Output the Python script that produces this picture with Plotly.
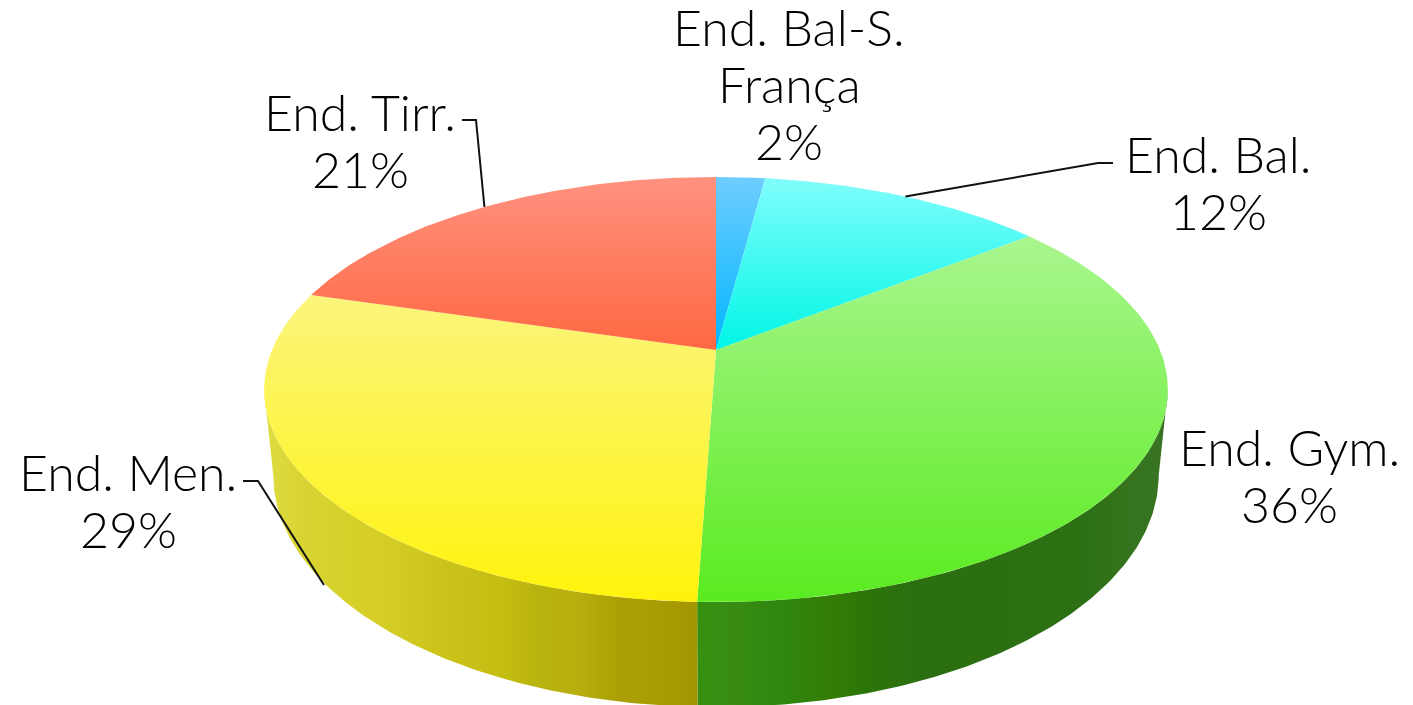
import numpy as np
import plotly.graph_objects as go

# Data
labels = [["End. Bal-S.", "França"], ["End. Bal."], ["End. Gym."], ["End. Men."], ["End. Tirr."]]
values = [2.1, 12.3, 36.15, 29.0, 20.45]
percent_text = ["2%", "12%", "36%", "29%", "21%"]

# Top-face gradient (far edge to near edge) per slice
top_colors = [
    ("#6FCDFF", "#00B6FF"),
    ("#80FDFC", "#00F6E6"),
    ("#A9F68F", "#5AEB20"),
    ("#FBF57C", "#FFF30C"),
    ("#FF917F", "#FF6842"),
]
# Side-wall gradient stops (left to right) per slice
side_colors = [
    ["#0079AA", "#0079AA"],
    ["#00A29A", "#00A29A"],
    ["#36900F", "#388C12", "#2F8610", "#337E05", "#2D7408", "#2C6F10", "#2C6F10", "#2C6F12",
     "#2D7014", "#2D7014", "#34731C", "#397425"],
    ["#DEDC42", "#D9D434", "#D6D02A", "#D4CE26", "#CFC71E", "#C9C118", "#C6BE12", "#B8B30E",
     "#B8AE0E", "#ABA005", "#A89D04", "#A39500"],
    ["#C2563A", "#C2563A"],
]

# Label placement (pixels): x centre, y of the first line; leader elbows
label_pos = [(789, 27), (1218, 154), (1289, 447), (128, 472), (360, 112)]
LINE_STEP = 57
leader_elbow = [None, [(1113, 163), (1098, 163)], None, [(243, 481), (258, 481)], [(462, 120), (476, 120)]]
leader_on_bottom = [False, False, False, True, False]
leader_reach = [1, 1, 1, 1.06, 1]

# Perspective disc projection
CX = 716
C = 0.1859
TOP = dict(y0=350, a=444, b=205.2)
BOT = dict(y0=432, a=435, b=224)
FRONT_START = 0.2798
FRONT_END = 0.7202


def project(frac, rim):
    t = 2 * np.pi * np.asarray(frac)
    u, v = np.sin(t), -np.cos(t)
    d = 1 - C * v
    return CX + rim["a"] * u / d, rim["y0"] + rim["b"] * v / d


total = sum(values)
edges = np.concatenate([[0], np.cumsum(values)]) / total
fig = go.Figure()


def gradient(kind, cols):
    n = len(cols) - 1
    return dict(type=kind, colorscale=[[i / n, c] for i, c in enumerate(cols)])


# Side walls (front-facing part of the rim only)
for i in range(len(values)):
    lo, hi = max(edges[i], FRONT_START), min(edges[i + 1], FRONT_END)
    if hi <= lo:
        continue
    f = np.linspace(lo, hi, 120)
    xt, yt = project(f, TOP)
    xb, yb = project(f, BOT)
    fig.add_trace(go.Scatter(
        x=np.r_[xt, xb[::-1]], y=np.r_[yt, yb[::-1]], mode="lines", fill="toself",
        line=dict(width=0), fillgradient=gradient("horizontal", side_colors[i]),
        hoverinfo="skip", showlegend=False))

# Top faces
for i in range(len(values)):
    f = np.linspace(edges[i], edges[i + 1], 120)
    xt, yt = project(f, TOP)
    fig.add_trace(go.Scatter(
        x=np.r_[CX, xt, CX], y=np.r_[TOP["y0"], yt, TOP["y0"]], mode="lines", fill="toself",
        line=dict(width=0), fillgradient=gradient("vertical", top_colors[i][::-1]),
        hoverinfo="skip", showlegend=False))

# Leader lines, anchored at each slice's mid-angle
for i in range(len(values)):
    if leader_elbow[i] is None:
        continue
    ax, ay = project((edges[i] + edges[i + 1]) / 2, BOT if leader_on_bottom[i] else TOP)
    ex, ey = leader_elbow[i][-1]
    r = leader_reach[i]
    pts = leader_elbow[i] + [(ex + (float(ax) - ex) * r, ey + (float(ay) - ey) * r)]
    fig.add_trace(go.Scatter(
        x=[p[0] for p in pts], y=[p[1] for p in pts], mode="lines",
        line=dict(color="#111111", width=2), hoverinfo="skip", showlegend=False))

annotations = []
for p, l, t in zip(label_pos, labels, percent_text):
    for k, line in enumerate(l + [t]):
        annotations.append(dict(
            x=p[0], y=p[1] + k * LINE_STEP, text=line, showarrow=False, xanchor="center",
            yanchor="middle", align="center",
            font=dict(family="Lato", size=50, weight=300, color="#000000")))

fig.update_layout(
    width=1413, height=705, margin=dict(l=0, r=0, t=0, b=0),
    paper_bgcolor="white", plot_bgcolor="white", annotations=annotations,
    xaxis=dict(range=[0, 1413], visible=False, fixedrange=True),
    yaxis=dict(range=[705, 0], visible=False, fixedrange=True),
)
fig.write_html("out.html", config=dict(displayModeBar=False),
               post_script="document.body.style.margin='0';")
